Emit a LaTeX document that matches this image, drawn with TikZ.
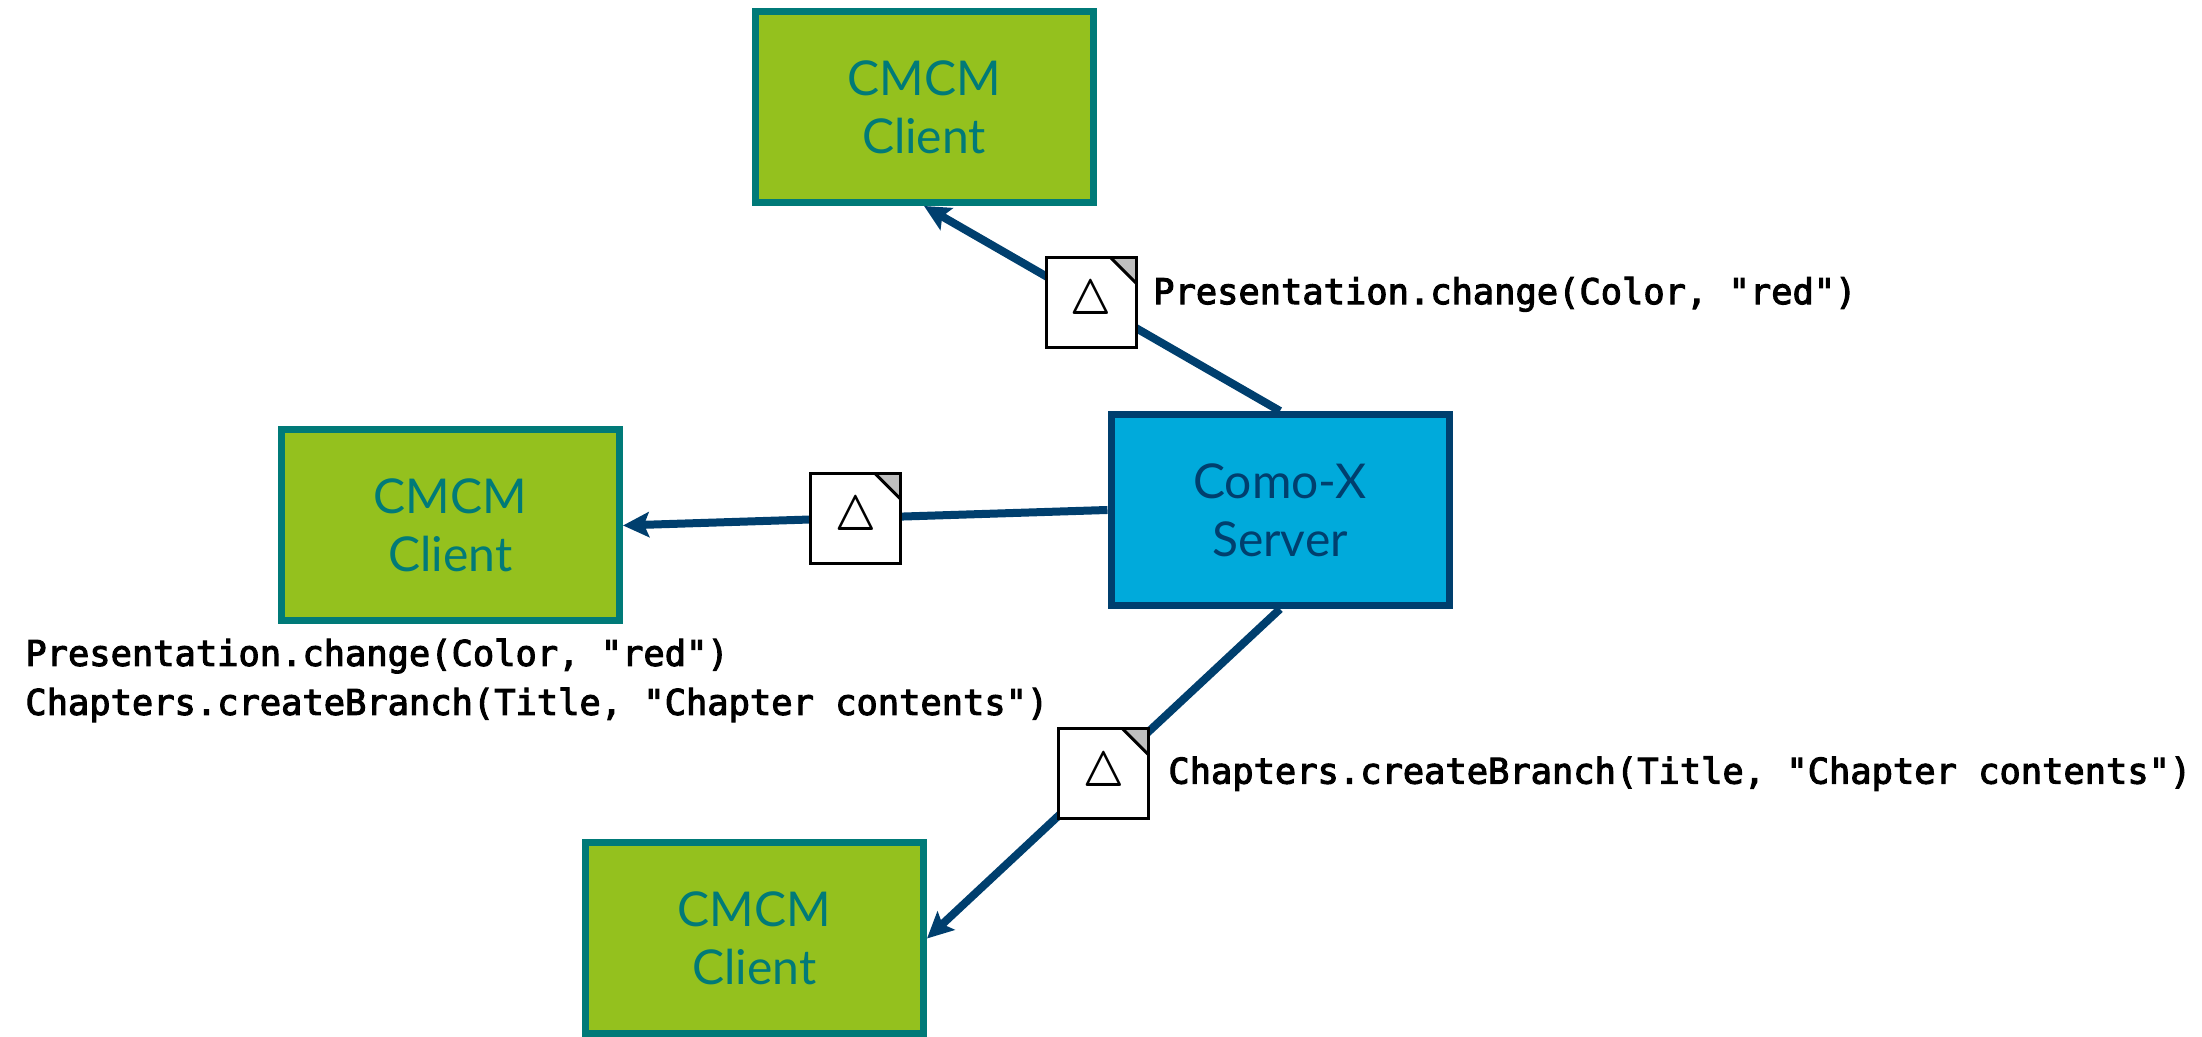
\documentclass[tikz,border=0pt]{standalone}
\usepackage{fontspec}
\setmainfont{Lato}
\setmonofont[FakeBold=3]{DejaVu Sans Mono}
\usetikzlibrary{arrows.meta,positioning}
\definecolor{cmgreen}{HTML}{94C11E}
\definecolor{cmteal}{HTML}{007A78}
\definecolor{cxblue}{HTML}{00AADB}
\definecolor{cxdark}{HTML}{003F6E}
\newcommand{\dmark}{\scalebox{0.8}[1]{\boldmath$\triangle$}}
\tikzset{
  client/.style={draw=cmteal, fill=cmgreen, line width=3.5pt, text=cmteal,
    minimum width=169pt, minimum height=95.5pt, align=center,
    font=\fontsize{24}{29}\selectfont},
  server/.style={client, draw=cxdark, fill=cxblue, text=cxdark},
  delta/.style={draw=black, fill=white, line width=1.5pt, minimum size=45pt,
    inner sep=0pt, text=black, font=\fontsize{27}{27}\selectfont,
    path picture={
      \fill[gray!50] (path picture bounding box.north east) -- ++(-13pt,0) -- ++(13pt,-13pt) -- cycle;
      \draw[-, line width=1.5pt] (path picture bounding box.north east) ++(-13pt,0) -- ++(13pt,-13pt);
    }},
  link/.style={draw=cxdark, line width=4pt, -{Stealth[length=13pt, width=12.5pt, inset=2.5pt]}},
  call/.style={inner sep=0pt, font=\ttfamily\fontsize{17.7}{24.5}\selectfont}
}
\begin{document}
\begin{tikzpicture}[x=1pt, y=1pt]
  \useasboundingbox (0,0) rectangle (1101,518.5);

  \node[server] (srv) at (640,263.5) {Como-X\\Server};
  \node[client] (top) at (462,465) {CMCM\\Client};
  \node[client] (mid) at (225.25,255.75) {CMCM\\Client};
  \node[client] (bot) at (377.25,49.25) {CMCM\\Client};

  \draw[link] (srv.north) -- node[delta, pos=0.53] (d1) {\dmark} (top.south);
  \draw[link] (srv.west) -- node[delta, pos=0.52] (d2) {\dmark} (mid.east);
  \draw[link] (srv.south) -- node[delta, pos=0.5] (d3) {\dmark} (bot.east);

  \node[call, anchor=west] (l1) at ([xshift=7.5pt, yshift=4pt]d1.east) {Presentation.change(Color, "red")};
  \node[call, anchor=west] (l3) at ([xshift=9pt]d3.east) {Chapters.createBranch(Title, "Chapter contents")};
  \node[call, anchor=west, align=left] (l2) at (12.5,178.25) {Presentation.change(Color, "red")\\Chapters.createBranch(Title, "Chapter contents")};
\end{tikzpicture}
\end{document}
